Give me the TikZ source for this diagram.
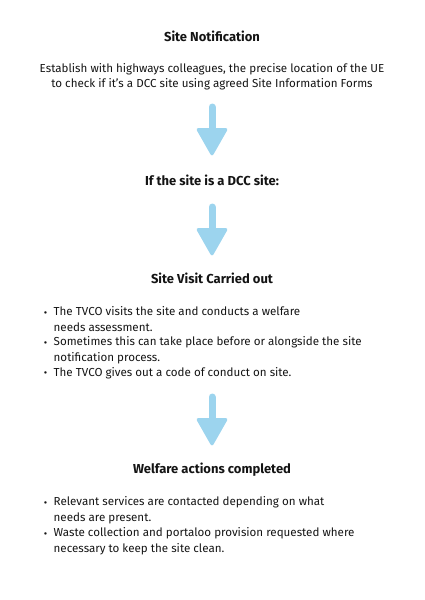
\documentclass[tikz,border=0pt]{standalone}
\usepackage{fontspec}
\setmainfont{Fira Sans}
\usetikzlibrary{positioning}
\definecolor{flowblue}{RGB}{156,212,238}
\definecolor{ink}{RGB}{20,20,20}
\tikzset{
  heading/.style={font=\fontsize{13}{16}\selectfont\bfseries, text=ink, inner sep=0pt, anchor=base},
  body/.style={font=\fontsize{11.6}{15.5}\selectfont, text=ink, align=center, inner sep=0pt, anchor=base},
  item/.style={font=\fontsize{11.6}{15.2}\selectfont, text=ink, align=left, inner sep=0pt, anchor=base west},
  dot/.style={font=\fontsize{10.5}{12}\selectfont, text=ink, inner sep=0pt, anchor=base},
}
\begin{document}
\begin{tikzpicture}[x=1pt,y=-1pt]
  \useasboundingbox (0,0) rectangle (424,600);
  \node[heading] (notify) at (212,41.5) {Site Notification};
  \node[body] (locate) at (212,87.5) {Establish with highways colleagues, the precise location of the UE\\to check if it’s a DCC site using agreed Site Information Forms};
  \node[heading] (dcc) at (212,185) {If the site is a DCC site:};
  \node[heading] (visit) at (212,283) {Site Visit Carried out};
  \node[heading] (welfare) at (212,473) {Welfare actions completed};
  % bullets sit on the first line, the text node on its last line
  \foreach \d/\y/\n/\t in {316/331/assess/{The TVCO visits the site and conducts a welfare\\needs assessment.},
      346/361/before/{Sometimes this can take place before or alongside the site\\notification process.},
      376/376/conduct/{The TVCO gives out a code of conduct on site.},
      506/521/services/{Relevant services are contacted depending on what\\needs are present.},
      537/552/waste/{Waste collection and portaloo provision requested where\\necessary to keep the site clean.}}
    {\node[dot] (\n-dot) at (45.5,\d) {\textbullet}; \node[item] (\n) at (53.5,\y) {\t};}
  \foreach \i/\a/\b in {1/107/157, 2/207/257, 3/397/447}
    {\coordinate (top\i) at (212,\a); \coordinate (tip\i) at (212,\b);
     \fill[flowblue, rounded corners=3pt] ([xshift=-16.5pt,yshift=29pt]tip\i) -- ([xshift=16.5pt,yshift=29pt]tip\i) -- (tip\i) -- cycle;
     \draw[flowblue, line width=7pt, line cap=round] (top\i) -- ([yshift=26pt]tip\i);}
\end{tikzpicture}
\end{document}
